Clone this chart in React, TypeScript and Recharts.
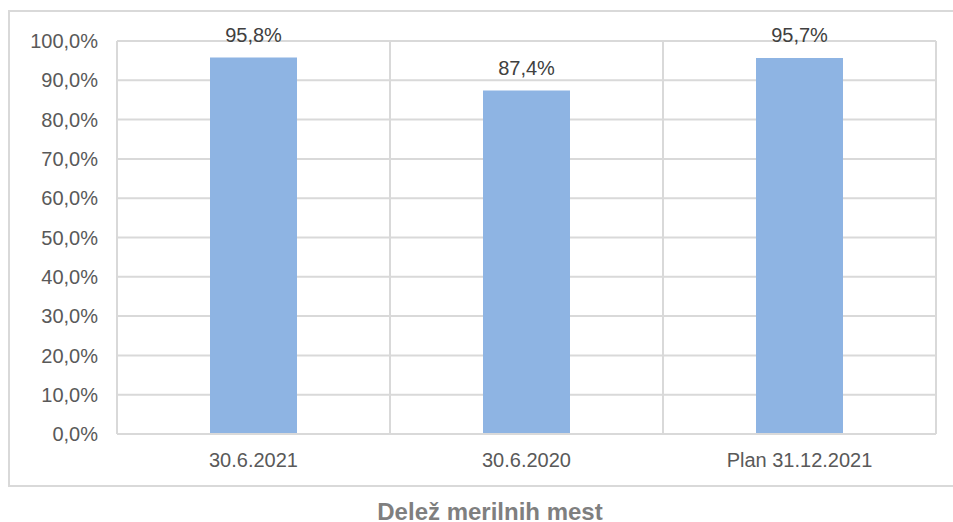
import React from "react";
import { BarChart, Bar, XAxis, YAxis, CartesianGrid, LabelList } from "recharts";

const categories = ["30.6.2021", "30.6.2020", "Plan 31.12.2021"];
const shares = [95.8, 87.4, 95.7];
const yTicks = [0, 10, 20, 30, 40, 50, 60, 70, 80, 90, 100];
const title = "Delež merilnih mest";

const data = categories.map((name, i) => ({ name, value: shares[i] }));

const FONT = "'Liberation Sans', Arial, sans-serif";
const TEXT = "#595959";
const GRID = "#d9d9d9";

const pct = (v: number) => `${v.toFixed(1).replace(".", ",")}%`;

export default function App() {
  return (
    <div style={{ position: "absolute", left: 0, top: 0, width: 953, height: 522, background: "#fff", overflow: "hidden", fontFamily: FONT }}>
      <div
        style={{
          position: "absolute",
          left: 8,
          top: 10,
          width: 960,
          height: 477,
          border: `2px solid ${GRID}`,
          boxSizing: "border-box",
        }}
      />
      <div style={{ position: "absolute", left: 0, top: 0 }}>
        <BarChart width={953} height={522} data={data} margin={{ top: 41, right: 17, bottom: 58, left: 0 }}>
          <CartesianGrid
            stroke={GRID}
            strokeWidth={2}
            verticalCoordinatesGenerator={({ offset }: any) => [
              offset.left,
              offset.left + offset.width / 3,
              offset.left + (offset.width * 2) / 3,
              offset.left + offset.width,
            ]}
          />
          <XAxis
            dataKey="name"
            height={30}
            axisLine={{ stroke: GRID, strokeWidth: 2 }}
            tickLine={false}
            tickSize={0}
            tickMargin={19}
            tick={{ fill: TEXT, fontSize: 20, fontFamily: FONT }}
          />
          <YAxis
            width={117}
            domain={[0, 100]}
            ticks={yTicks}
            tickFormatter={pct}
            axisLine={false}
            tickLine={false}
            tickSize={0}
            tickMargin={19}
            tick={{ fill: TEXT, fontSize: 20, fontFamily: FONT }}
          />
          <Bar dataKey="value" fill="#8eb4e3" barSize={87} isAnimationActive={false}>
            <LabelList
              dataKey="value"
              position="top"
              offset={16}
              formatter={(v: any) => pct(Number(v))}
              style={{ fill: "#404040", fontSize: 20, fontFamily: FONT }}
            />
          </Bar>
        </BarChart>
      </div>
      <div
        style={{
          position: "absolute",
          left: 0,
          top: 502,
          width: 980,
          textAlign: "center",
          fontSize: 24,
          lineHeight: "20px",
          fontWeight: "bold",
          color: "#7f7f7f",
        }}
      >
        {title}
      </div>
    </div>
  );
}
